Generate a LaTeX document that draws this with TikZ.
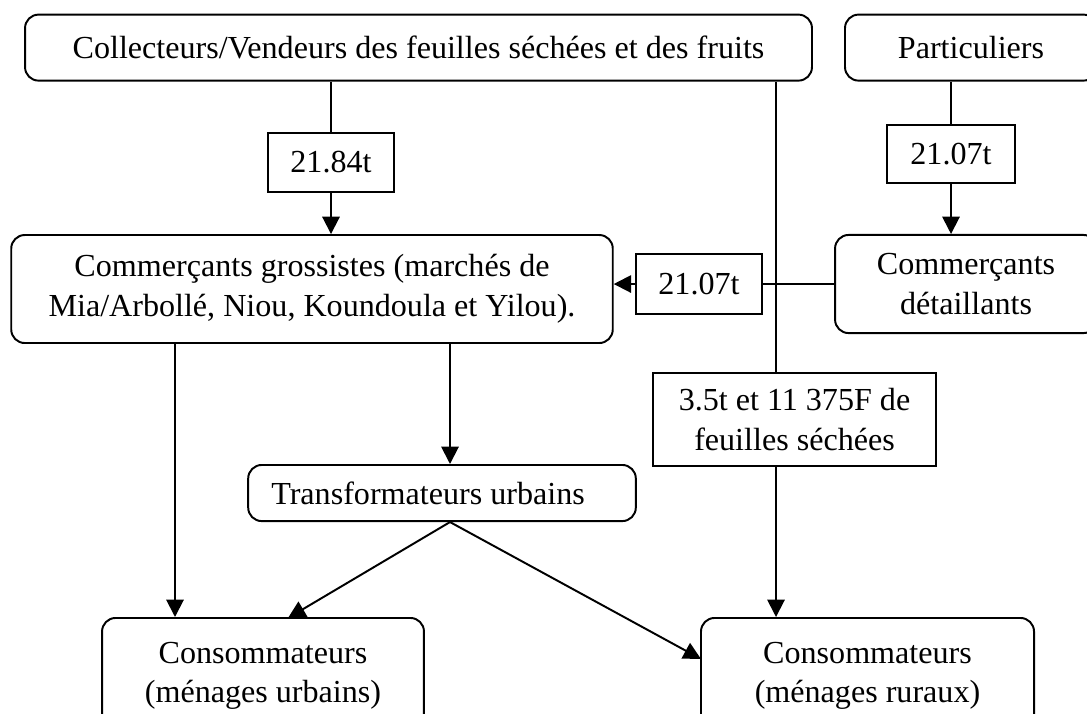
\documentclass[tikz,border=0pt]{standalone}
\usepackage{fontspec}
\setmainfont{Liberation Serif}
\usetikzlibrary{arrows.meta}
\tikzset{
  box/.style={draw, line width=0.65pt, rounded corners=4.5pt, inner sep=0pt, align=center,
    font=\fontsize{10.7}{13.2}\selectfont},
  lab/.style={draw, line width=0.65pt, inner sep=0pt, align=center,
    font=\fontsize{10.7}{13.2}\selectfont},
  conn/.style={line width=0.65pt},
  arr/.style={line width=0.65pt, -{Triangle[length=5.8pt,width=5.8pt]}}
}
\begin{document}
\begin{tikzpicture}[x=0.33333pt, y=-0.33333pt]
\useasboundingbox (0,0) rectangle (1087,713);
\clip (0,0) rectangle (1087,713);
% boxes
\node[box, minimum width=262.3pt, minimum height=22pt] (coll) at (418.5,47.6)
  {Collecteurs/Vendeurs des feuilles séchées et des fruits};
\node[box, minimum width=84pt, minimum height=22pt] (part) at (971,47.6) {Particuliers};
\node[box, minimum width=200.5pt, minimum height=36pt] (gros) at (312,289)
  {Commerçants grossistes (marchés de\\Mia/Arbollé, Niou, Koundoula et Yilou).};
\node[box, minimum width=87.3pt, minimum height=32.7pt] (det) at (966,284)
  {Commerçants\\détaillants};
\node[box, inner xsep=7.7pt, minimum height=18.7pt] (trans) at (442,493)
  {\makebox[113.8pt][l]{Transformateurs urbains}};
\node[box, minimum width=107.3pt, minimum height=38.7pt] (urb) at (263,676)
  {Consommateurs\\(ménages urbains)};
\node[box, minimum width=111pt, minimum height=38.7pt] (rur) at (867.5,676)
  {Consommateurs\\(ménages ruraux)};
% labels
\node[lab, minimum width=42pt, minimum height=19.7pt] (l1) at (331,162.5) {21.84t};
\node[lab, minimum width=42.7pt, minimum height=19.3pt] (l2) at (951,154) {21.07t};
\node[lab, minimum width=42pt, minimum height=20pt] (l3) at (699,284) {21.07t};
\node[lab, minimum width=94.3pt, minimum height=31pt] (l4) at (794.5,419.5)
  {3.5t et 11 375F de\\feuilles séchées};
% helper coordinates
\coordinate (vx) at (776,0);
\coordinate (ux) at (175,0);
\coordinate (tx) at (450,0);
\coordinate (ua) at (288,618);
\coordinate (ra) at (701,659);
% connectors
\draw[conn] (coll.south -| l1.north) -- (l1.north);
\draw[arr] (l1.south) -- (l1.south |- gros.north);
\draw[conn] (part.south -| l2.north) -- (l2.north);
\draw[arr] (l2.south) -- (l2.south |- det.north);
\draw[conn] (coll.south -| vx) -- (l4.north -| vx);
\draw[arr] (l4.south -| vx) -- (rur.north -| vx);
\draw[conn] (det.west) -- (l3.east);
\draw[arr] (l3.west) -- (l3.west -| gros.east);
\draw[arr] (gros.south -| ux) -- (urb.north -| ux);
\draw[arr] (gros.south -| tx) -- (trans.north -| tx);
\draw[arr] (trans.south -| tx) -- (ua);
\draw[arr] (trans.south -| tx) -- (ra);
\end{tikzpicture}
\end{document}
